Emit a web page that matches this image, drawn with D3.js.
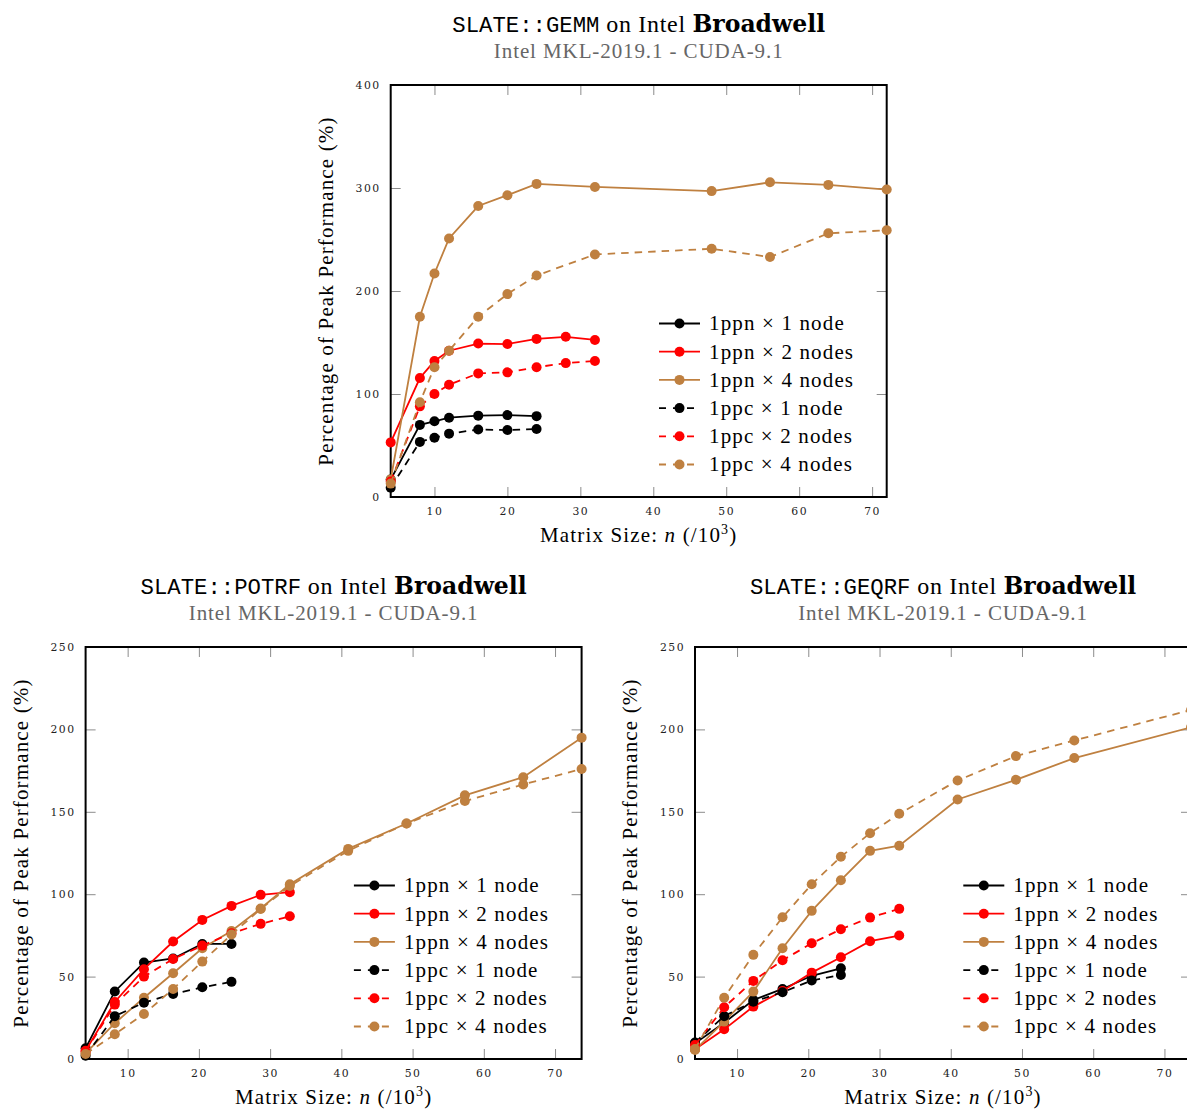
<!DOCTYPE html>
<html>
<head>
<meta charset="utf-8">
<script src="https://cdn.jsdelivr.net/npm/d3@7"></script>
<style>
  body { margin: 0; background: #ffffff; }
  svg { display: block; }
</style>
</head>
<body>
<script>
// ---- matrix sizes (n / 10^3) ----
const gemmSizes  = [4, 8, 10, 12, 16, 20, 24, 28, 32, 48, 56, 64, 72];
const tiledSizes = [4.096, 8.192, 12.288, 16.384, 20.48, 24.576, 28.672, 32.768, 40.96, 49.152, 57.344, 65.536, 73.728];

// ---- GEMM: percentage of peak ----
const gemmPpn1 = [17, 70, 73.5, 77, 79, 79.5, 78.5, null, null, null, null, null, null];
const gemmPpn2 = [53, 115.5, 132, 142, 149, 148.5, 153.5, 155.5, 152.5, null, null, null, null];
const gemmPpn4 = [17, 175, 217, 251, 282.5, 293, 304, null, 301, 297, 305.5, 303, 298.5];
const gemmPpc1 = [9, 53.5, 57.5, 61.5, 65.5, 65, 66, null, null, null, null, null, null];
const gemmPpc2 = [15, 88, 100, 109, 120, 121, 126, 130, 132, null, null, null, null];
const gemmPpc4 = [13, 92, 126, 142, 175, 197, 215, null, 235.5, 241, 233, 256, 259];

// ---- POTRF: percentage of peak ----
const potrfPpn1 = [6.5, 41, 58.5, 61, 69.8, 69.8, null, null, null, null, null, null, null];
const potrfPpn2 = [5, 34.6, 54.5, 71.3, 84.4, 92.9, 99.6, 101.2, null, null, null, null, null];
const potrfPpn4 = [3.4, 21.7, 37.2, 52, 67.2, 77.7, 91.3, 106, 127.5, 142.9, 160, 171, 195];
const potrfPpc1 = [2, 26, 34.2, 39.5, 43.5, 46.8, null, null, null, null, null, null, null];
const potrfPpc2 = [4.5, 33, 50, 60.7, 68.8, 76.3, 82, 86.6, null, null, null, null, null];
const potrfPpc4 = [3, 15, 27.3, 42.5, 59.1, 75.5, 91, 105, 126.3, 142.9, 156.5, 166.6, 176];

// ---- GEQRF: percentage of peak ----
const geqrfPpn1 = [9.5, 22, 35.8, 42.5, 50.5, 55, null, null, null, null, null, null, null];
const geqrfPpn2 = [5.9, 18, 31.8, 41.3, 52.4, 61.7, 71.5, 74.9, null, null, null, null, null];
const geqrfPpn4 = [5.5, 22.7, 40.9, 67.2, 89.9, 108.5, 126.3, 129.4, 157.5, 169.4, 182.6, null, 201.3];
const geqrfPpc1 = [10, 26, 34.8, 40.5, 47.6, 51, null, null, null, null, null, null, null];
const geqrfPpc2 = [8.5, 31.4, 47.4, 59.9, 70.2, 78.7, 85.8, 91.1, null, null, null, null, null];
const geqrfPpc4 = [6, 37.2, 63.2, 86, 106, 122.7, 137, 148.8, 169, 183.8, 193.3, null, 211.8];

// ---- legend / styling per series ----
const seriesLabels = ["1ppn × 1 node", "1ppn × 2 nodes", "1ppn × 4 nodes",
                      "1ppc × 1 node", "1ppc × 2 nodes", "1ppc × 4 nodes"];
const seriesColors = ["#000000", "#ff0000", "#bf8040", "#000000", "#ff0000", "#bf8040"];
const seriesDashed = [false, false, false, true, true, true];

// ---- tick values ----
const xTickValues = [10, 20, 30, 40, 50, 60, 70];
const gemmYTicks  = [0, 100, 200, 300, 400];
const tiledYTicks = [0, 50, 100, 150, 200, 250];

const subtitleText = "Intel MKL-2019.1 - CUDA-9.1";
const yAxisText = "Percentage of Peak Performance (%)";

const W = 1187, H = 1115;
const PLOT_W = 496, PLOT_H = 412;
const SERIF = "'Liberation Serif', 'Times New Roman', serif";
const MONO = "'Liberation Mono', 'DejaVu Sans Mono', monospace";
const LABEL_SPACING = 1.15;
const MARK_R = 5;

const svg = d3.select("body").append("svg")
  .attr("width", W).attr("height", H)
  .attr("viewBox", `0 0 ${W} ${H}`);

const panels = [
  { routine: "GEMM",  left: 390.7, top: 85,  sizes: gemmSizes,  xDomain: [4, 72],
    yDomain: [0, 400], yTicks: gemmYTicks,
    values: [gemmPpn1, gemmPpn2, gemmPpn4, gemmPpc1, gemmPpc2, gemmPpc4] },
  { routine: "POTRF", left: 85.6,  top: 647, sizes: tiledSizes, xDomain: [4.096, 73.728],
    yDomain: [0, 250], yTicks: tiledYTicks,
    values: [potrfPpn1, potrfPpn2, potrfPpn4, potrfPpc1, potrfPpc2, potrfPpc4] },
  { routine: "GEQRF", left: 695,   top: 647, sizes: tiledSizes, xDomain: [4.096, 73.728],
    yDomain: [0, 250], yTicks: tiledYTicks,
    values: [geqrfPpn1, geqrfPpn2, geqrfPpn4, geqrfPpc1, geqrfPpc2, geqrfPpc4] }
];

function drawPanel(p, idx) {
  const g = svg.append("g").attr("transform", `translate(${p.left},${p.top})`);
  const x = d3.scaleLinear().domain(p.xDomain).range([0, PLOT_W]);
  const y = d3.scaleLinear().domain(p.yDomain).range([PLOT_H, 0]);

  // title and subtitle
  const cx = PLOT_W / 2;
  const title = g.append("text")
    .attr("x", cx).attr("y", -53.5)
    .attr("text-anchor", "middle")
    .attr("fill", "#000");
  title.append("tspan").attr("font-family", MONO).attr("font-size", 22.3)
    .text(`SLATE::${p.routine}`);
  title.append("tspan").attr("font-family", SERIF).attr("font-size", 24)
    .attr("letter-spacing", 0.7).text(" on Intel ");
  title.append("tspan").attr("font-family", "'DejaVu Serif', serif")
    .attr("font-weight", "bold").attr("font-size", 23.5).text("Broadwell");

  g.append("text")
    .attr("x", cx).attr("y", -26.7)
    .attr("text-anchor", "middle")
    .attr("font-family", SERIF).attr("font-size", 21)
    .attr("letter-spacing", 0.9)
    .attr("fill", "#666666")
    .text(subtitleText);

  // axes with inward ticks on all four sides
  const tickStyle = sel => {
    sel.select(".domain").remove();
    sel.selectAll(".tick line").attr("stroke", "#8c8c8c").attr("stroke-width", 1);
    sel.selectAll(".tick text")
      .attr("font-family", "'DejaVu Serif', serif")
      .attr("font-size", 10.8)
      .attr("letter-spacing", 1.5)
      .attr("fill", "#222");
  };
  g.append("g").attr("transform", `translate(0,${PLOT_H})`)
    .call(d3.axisBottom(x).tickValues(xTickValues).tickSizeInner(-10).tickSizeOuter(0)
      .tickPadding(10).tickFormat(d3.format("d")))
    .call(tickStyle);
  g.append("g")
    .call(d3.axisTop(x).tickValues(xTickValues).tickSizeInner(-10).tickSizeOuter(0)
      .tickFormat(""))
    .call(tickStyle);
  g.append("g")
    .call(d3.axisLeft(y).tickValues(p.yTicks).tickSizeInner(-10).tickSizeOuter(0)
      .tickPadding(10).tickFormat(d3.format("d")))
    .call(tickStyle);
  g.append("g").attr("transform", `translate(${PLOT_W},0)`)
    .call(d3.axisRight(y).tickValues(p.yTicks).tickSizeInner(-10).tickSizeOuter(0)
      .tickFormat(""))
    .call(tickStyle);

  // frame
  g.append("rect")
    .attr("width", PLOT_W).attr("height", PLOT_H)
    .attr("fill", "none").attr("stroke", "#000").attr("stroke-width", 2);

  // axis labels
  const xl = g.append("text")
    .attr("x", cx).attr("y", PLOT_H + 45.3)
    .attr("text-anchor", "middle")
    .attr("font-family", SERIF).attr("font-size", 21)
    .attr("letter-spacing", LABEL_SPACING).attr("fill", "#000");
  xl.append("tspan").text("Matrix Size: ");
  xl.append("tspan").attr("font-style", "italic").text("n");
  xl.append("tspan").text(" (/10");
  xl.append("tspan").attr("font-size", 14).attr("dy", -8).text("3");
  xl.append("tspan").attr("dy", 8).text(")");

  g.append("text")
    .attr("transform", `translate(-58,${PLOT_H / 2}) rotate(-90)`)
    .attr("text-anchor", "middle")
    .attr("font-family", SERIF).attr("font-size", 21)
    .attr("letter-spacing", LABEL_SPACING).attr("fill", "#000")
    .text(yAxisText);

  // series
  const clipId = `plot-clip-${idx}`;
  g.append("clipPath").attr("id", clipId)
    .append("rect").attr("width", PLOT_W).attr("height", PLOT_H);

  const line = d3.line().x(d => x(d[0])).y(d => y(d[1]));

  p.values.forEach((vals, s) => {
    const pts = p.sizes.map((n, i) => [n, vals[i]]).filter(d => d[1] !== null);
    g.append("path")
      .datum(pts)
      .attr("clip-path", `url(#${clipId})`)
      .attr("fill", "none")
      .attr("stroke", seriesColors[s])
      .attr("stroke-width", 1.8)
      .attr("stroke-dasharray", seriesDashed[s] ? "7.5,6" : null)
      .attr("d", line);
    g.append("g").selectAll("circle")
      .data(pts).join("circle")
      .attr("cx", d => x(d[0]))
      .attr("cy", d => y(d[1]))
      .attr("r", MARK_R)
      .attr("fill", seriesColors[s]);
  });

  // legend
  const lg = g.append("g").attr("transform", `translate(${PLOT_W - 227.7},${PLOT_H - 173.5})`);
  seriesLabels.forEach((label, s) => {
    const row = lg.append("g").attr("transform", `translate(0,${s * 28.2})`);
    row.append("line")
      .attr("x1", 0).attr("x2", 41).attr("y1", 0).attr("y2", 0)
      .attr("stroke", seriesColors[s]).attr("stroke-width", 1.8)
      .attr("stroke-dasharray", seriesDashed[s] ? "7,7" : null);
    row.append("circle").attr("cx", 20.5).attr("cy", 0).attr("r", MARK_R)
      .attr("fill", seriesColors[s]);
    row.append("text")
      .attr("x", 50).attr("y", 6.8)
      .attr("font-family", SERIF).attr("font-size", 21)
      .attr("letter-spacing", LABEL_SPACING).attr("fill", "#000")
      .text(label);
  });
}

panels.forEach(drawPanel);
</script>
</body>
</html>
